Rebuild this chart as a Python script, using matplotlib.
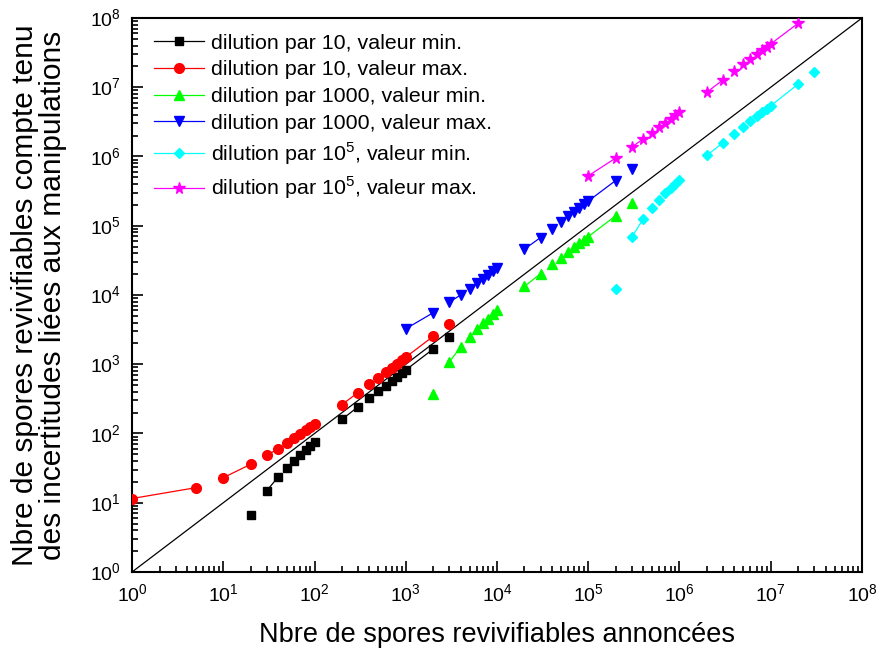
import numpy as np
import matplotlib
matplotlib.use("Agg")
import matplotlib.pyplot as plt
from matplotlib.lines import Line2D

plt.rcParams['font.family'] = ['Liberation Sans', 'DejaVu Sans']
plt.rcParams['mathtext.fontset'] = 'custom'
plt.rcParams['mathtext.rm'] = 'Liberation Sans'

# dilution par 10
d10_x_min = [20, 30, 40, 50, 60, 70, 80, 90, 100,
             200, 300, 400, 500, 600, 700, 800, 900, 1000, 2000, 3000]
d10_y_min = [6.6, 15, 23.5, 32, 40.5, 49, 58, 66.5, 75,
             160, 243, 326, 410, 493, 575, 660, 743, 826, 1660, 2500]
d10_x_max = [1, 5, 10, 20, 30, 40, 50, 60, 70, 80, 90, 100,
             200, 300, 400, 500, 600, 700, 800, 900, 1000, 2000, 3000]
d10_y_max = [11.5, 16.5, 23, 36, 48.5, 60, 73.5, 86, 99, 111, 124, 136,
             262, 390, 515, 640, 765, 890, 1015, 1140, 1265, 2530, 3790]

# dilution par 1000
d1000_x_min = [2e3, 3e3, 4e3, 5e3, 6e3, 7e3, 8e3, 9e3, 1e4,
               2e4, 3e4, 4e4, 5e4, 6e4, 7e4, 8e4, 9e4, 1e5, 2e5, 3e5]
d1000_y_min = [370, 1075, 1780, 2500, 3220, 3900, 4560, 5300, 6050,
               13300, 20300, 27700, 34500, 41500, 48500, 55500, 62500, 69500,
               139500, 210000]
d1000_x_max = [1e3, 2e3, 3e3, 4e3, 5e3, 6e3, 7e3, 8e3, 9e3, 1e4,
               2e4, 3e4, 4e4, 5e4, 6e4, 7e4, 8e4, 9e4, 1e5, 2e5, 3e5]
d1000_y_max = [3250, 5550, 7900, 10000, 12300, 14700, 17200, 19700, 22000, 24300,
               46000, 67500, 91000, 114000, 136000, 158000, 180000, 203000, 227000,
               450000, 670000]

# dilution par 10^5
d1e5_x_min = [2e5, 3e5, 4e5, 5e5, 6e5, 7e5, 8e5, 9e5, 1e6,
              2e6, 3e6, 4e6, 5e6, 6e6, 7e6, 8e6, 9e6, 1e7, 2e7, 3e7]
d1e5_y_min = [12200, 68500, 125000, 179000, 238000, 294000, 345000, 402000, 465000,
              1.04e6, 1.58e6, 2.13e6, 2.69e6, 3.25e6, 3.8e6, 4.33e6, 4.88e6, 5.4e6,
              1.11e7, 1.66e7]
d1e5_x_max = [1e5, 2e5, 3e5, 4e5, 5e5, 6e5, 7e5, 8e5, 9e5, 1e6,
              2e6, 3e6, 4e6, 5e6, 6e6, 7e6, 8e6, 9e6, 1e7, 2e7]
d1e5_y_max = [5.25e5, 9.5e5, 1.37e6, 1.79e6, 2.21e6, 2.63e6, 3.05e6, 3.48e6, 3.93e6, 4.4e6,
              8.5e6, 1.28e7, 1.72e7, 2.14e7, 2.54e7, 2.99e7, 3.42e7, 3.82e7, 4.22e7,
              8.4e7]

# index of the points where a visible line joins point i to point i+1
links_min = [1, 9, 17]
links_max = [0, 2, 10, 18]
links_d10_max = [0, 2, 4, 12, 20]

labels = ['dilution par 10, valeur min.',
          'dilution par 10, valeur max.',
          'dilution par 1000, valeur min.',
          'dilution par 1000, valeur max.',
          r'dilution par 10$^5$, valeur min.',
          r'dilution par 10$^5$, valeur max.']

series = [
    (d10_x_min, d10_y_min, links_min, 'black', 's', 6),
    (d10_x_max, d10_y_max, links_d10_max, '#ff0000', 'o', 7),
    (d1000_x_min, d1000_y_min, links_min, '#00ff00', '^', 7.5),
    (d1000_x_max, d1000_y_max, links_max, '#0000ff', 'v', 7.5),
    (d1e5_x_min, d1e5_y_min, links_min, '#00ffff', 'D', 5.5),
    (d1e5_x_max, d1e5_y_max, links_max, '#ff00ff', '*', 8.5),
]

fig = plt.figure(figsize=(8.82, 6.54), dpi=100)
ax = fig.add_axes([0.1497, 0.1254, 0.8276, 0.8471])

# reference line y = x
ax.plot([1, 1e8], [1, 1e8], color='black', lw=0.9, zorder=1)

handles = []
for (xs, ys, links, color, marker, ms), lab in zip(series, labels):
    for i in links:
        ax.plot(xs[i:i + 2], ys[i:i + 2], color=color, lw=0.9, zorder=2)
    ax.plot(xs, ys, ls='none', marker=marker, ms=ms, color=color,
            mec=color, zorder=3, clip_on=True)
    handles.append(Line2D([], [], color=color, lw=0.9, marker=marker,
                          ms=ms, mec=color))

ax.set_xscale('log')
ax.set_yscale('log')
ax.set_xlim(1, 1e8)
ax.set_ylim(1, 1e8)

ax.set_xticks([10.0 ** k for k in range(9)])
ax.set_yticks([10.0 ** k for k in range(9)])
ax.set_xticklabels([r'10$^{%d}$' % k for k in range(9)])
ax.set_yticklabels([r'10$^{%d}$' % k for k in range(9)])
ax.tick_params(which='both', direction='in', top=False, right=False,
               labelsize=14, width=1.2)
ax.tick_params(which='major', length=8, pad=8)
ax.tick_params(which='minor', length=4.5)
ax.xaxis.set_minor_locator(matplotlib.ticker.LogLocator(base=10, subs=np.arange(2, 10), numticks=100))
ax.yaxis.set_minor_locator(matplotlib.ticker.LogLocator(base=10, subs=np.arange(2, 10), numticks=100))
ax.xaxis.set_minor_formatter(matplotlib.ticker.NullFormatter())
ax.yaxis.set_minor_formatter(matplotlib.ticker.NullFormatter())
for s in ax.spines.values():
    s.set_linewidth(1.5)

ax.set_xlabel('Nbre de spores revivifiables annoncées', fontsize=19.5, labelpad=12)
ax.set_ylabel('Nbre de spores revivifiables compte tenu\n'
              'des incertitudes liées aux manipulations',
              fontsize=21.5, linespacing=1.0, va='center')
ax.yaxis.set_label_coords(-0.128, 0.5)

ax.legend(handles, labels, loc='upper left', bbox_to_anchor=(0.012, 0.995),
          frameon=False, fontsize=15.4, handlelength=2.35, labelspacing=0.36,
          handletextpad=0.35, borderaxespad=0.2)

fig.savefig('out.png', dpi=100)
